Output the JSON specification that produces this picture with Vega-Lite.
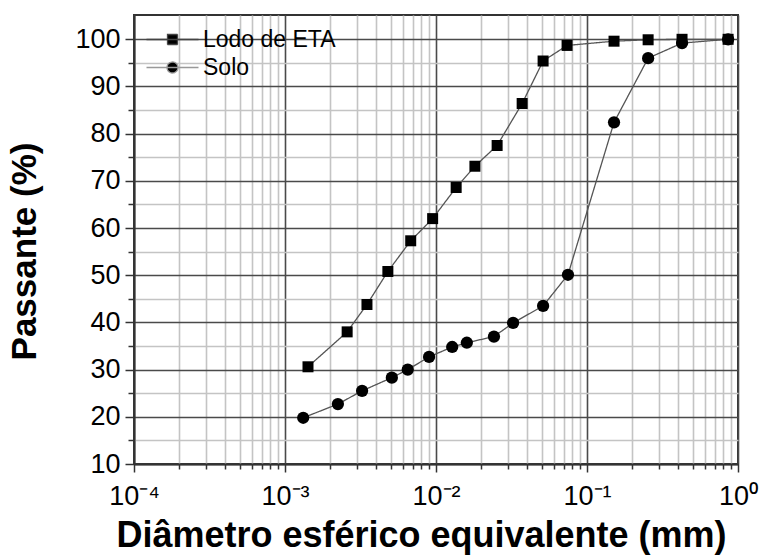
{
  "$schema": "https://vega.github.io/schema/vega-lite/v6.json",
  "width": 604,
  "height": 449,
  "autosize": "none",
  "padding": {"left": 134, "top": 15, "right": 22, "bottom": 93},
  "background": "white",
  "config": {
    "font": "Liberation Sans",
    "view": {"stroke": "#333", "strokeWidth": 2}
  },
  "data": {
    "values": [
      {"series": "Lodo de ETA", "d": 0.00142, "p": 30.6},
      {"series": "Lodo de ETA", "d": 0.00258, "p": 38.0},
      {"series": "Lodo de ETA", "d": 0.00349, "p": 43.8},
      {"series": "Lodo de ETA", "d": 0.0048, "p": 50.8},
      {"series": "Lodo de ETA", "d": 0.0068, "p": 57.3},
      {"series": "Lodo de ETA", "d": 0.0095, "p": 62.0},
      {"series": "Lodo de ETA", "d": 0.0136, "p": 68.6},
      {"series": "Lodo de ETA", "d": 0.0181, "p": 73.1},
      {"series": "Lodo de ETA", "d": 0.0254, "p": 77.5},
      {"series": "Lodo de ETA", "d": 0.0372, "p": 86.4},
      {"series": "Lodo de ETA", "d": 0.0512, "p": 95.4},
      {"series": "Lodo de ETA", "d": 0.0738, "p": 98.7},
      {"series": "Lodo de ETA", "d": 0.151, "p": 99.6},
      {"series": "Lodo de ETA", "d": 0.254, "p": 99.9},
      {"series": "Lodo de ETA", "d": 0.426, "p": 100},
      {"series": "Lodo de ETA", "d": 0.86, "p": 100},
      {"series": "Solo", "d": 0.00132, "p": 19.8},
      {"series": "Solo", "d": 0.00224, "p": 22.7},
      {"series": "Solo", "d": 0.00324, "p": 25.5},
      {"series": "Solo", "d": 0.0051, "p": 28.3},
      {"series": "Solo", "d": 0.0065, "p": 30.0},
      {"series": "Solo", "d": 0.009, "p": 32.7},
      {"series": "Solo", "d": 0.0128, "p": 34.8},
      {"series": "Solo", "d": 0.016, "p": 35.7},
      {"series": "Solo", "d": 0.0242, "p": 37.0},
      {"series": "Solo", "d": 0.0324, "p": 39.9},
      {"series": "Solo", "d": 0.0512, "p": 43.5},
      {"series": "Solo", "d": 0.0748, "p": 50.1},
      {"series": "Solo", "d": 0.151, "p": 82.4},
      {"series": "Solo", "d": 0.254, "p": 96.0},
      {"series": "Solo", "d": 0.426, "p": 99.2},
      {"series": "Solo", "d": 0.86, "p": 100}
    ]
  },
  "encoding": {
    "x": {
      "field": "d",
      "type": "quantitative",
      "scale": {"type": "log", "domain": [0.0001, 1], "nice": false},
      "axis": {
        "values": [0.0001, 0.0002, 0.0003, 0.0004, 0.0005, 0.0006, 0.0007, 0.0008, 0.0009,
                   0.001, 0.002, 0.003, 0.004, 0.005, 0.006, 0.007, 0.008, 0.009,
                   0.01, 0.02, 0.03, 0.04, 0.05, 0.06, 0.07, 0.08, 0.09,
                   0.1, 0.2, 0.3, 0.4, 0.5, 0.6, 0.7, 0.8, 0.9, 1],
        "labelExpr": "datum.value === 0.0001 ? '10⁻⁴' : datum.value === 0.001 ? '10⁻³' : datum.value === 0.01 ? '10⁻²' : datum.value === 0.1 ? '10⁻¹' : datum.value === 1 ? '10⁰' : ''",
        "labelOverlap": false,
        "labelFlush": false,
        "labelBound": false,
        "labelFontSize": 27,
        "labelColor": "black",
        "labelPadding": 11,
        "grid": true,
        "gridColor": {"condition": {"test": "indexof([0.0001,0.001,0.01,0.1,1], datum.value) >= 0", "value": "#4a4a4a"}, "value": "#c4c4c4"},
        "gridWidth": 1.6,
        "tickColor": "#333",
        "tickWidth": 1.5,
        "tickSize": {"condition": {"test": "indexof([0.0001,0.001,0.01,0.1,1], datum.value) >= 0", "value": 8}, "value": 5},
        "domainColor": "#333",
        "domainWidth": 2,
        "title": "Diâmetro esférico equivalente (mm)",
        "titleFontSize": 36,
        "titleFontWeight": "bold",
        "titleColor": "black",
        "titlePadding": 9,
        "titleX": 287,
        "titleAlign": "center"
      }
    },
    "y": {
      "field": "p",
      "type": "quantitative",
      "scale": {"domain": [10, 105.15], "nice": false, "zero": false},
      "axis": {
        "values": [10, 15, 20, 25, 30, 35, 40, 45, 50, 55, 60, 65, 70, 75, 80, 85, 90, 95, 100],
        "labelExpr": "datum.value % 10 === 0 ? datum.label : ''",
        "labelOverlap": false,
        "labelFlush": false,
        "labelFontSize": 27,
        "labelColor": "black",
        "labelPadding": 5,
        "grid": true,
        "gridColor": {"condition": {"test": "datum.value % 10 === 0", "value": "#4a4a4a"}, "value": "#c4c4c4"},
        "gridWidth": 1.6,
        "tickColor": "#333",
        "tickWidth": 1.5,
        "tickSize": {"condition": {"test": "datum.value % 10 === 0", "value": 9}, "value": 6},
        "domainColor": "#333",
        "domainWidth": 2,
        "title": "Passante (%)",
        "titleFontSize": 35,
        "titleFontWeight": "bold",
        "titleColor": "black",
        "titlePadding": 32,
        "titleY": 236,
        "titleAlign": "center"
      }
    }
  },
  "layer": [
    {
      "mark": {"type": "line", "color": "#555", "strokeWidth": 1.3},
      "encoding": {
        "strokeDash": {
          "field": "series",
          "type": "nominal",
          "scale": {"domain": ["Lodo de ETA", "Solo"], "range": [[1, 0], [1, 0]]},
          "legend": {
            "title": null,
            "orient": "none",
            "legendX": 27,
            "legendY": 13,
            "padding": 0,
            "symbolSize": 100,
            "symbolType": {"expr": "datum.value === 'Solo' ? 'M-5.2,0H5.2M1.1,0A1.1,1.1,0,1,1,-1.1,0A1.1,1.1,0,1,1,1.1,0Z' : 'M-5.2,0H5.2M-1,-1H1V1H-1Z'"},
            "symbolFillColor": "black",
            "symbolStrokeColor": {"expr": "datum.value === 'Solo' ? '#999' : '#444'"},
            "symbolStrokeWidth": 1.3,
            "labelFontSize": 23,
            "labelColor": "black",
            "labelOffset": 19,
            "rowPadding": 4,
            "encode": {
              "symbols": {
                "update": {
                  "shape": {"signal": "datum.value === 'Solo' ? 'M-5.2,0H5.2M1.1,0A1.1,1.1,0,1,1,-1.1,0A1.1,1.1,0,1,1,1.1,0Z' : 'M-5.2,0H5.2M-1,-1H1V1H-1Z'"},
                  "fill": {"value": "black"},
                  "stroke": {"signal": "datum.value === 'Solo' ? '#999' : '#444'"},
                  "strokeWidth": {"value": 1.3}
                }
              }
            }
          }
        }
      }
    },
    {
      "transform": [{"filter": "datum.series === 'Lodo de ETA'"}],
      "mark": {"type": "point", "shape": "square", "filled": true, "color": "black", "opacity": 1, "size": 121}
    },
    {
      "transform": [{"filter": "datum.series === 'Solo'"}],
      "mark": {"type": "point", "shape": "circle", "filled": true, "color": "black", "opacity": 1, "size": 150}
    }
  ]
}
